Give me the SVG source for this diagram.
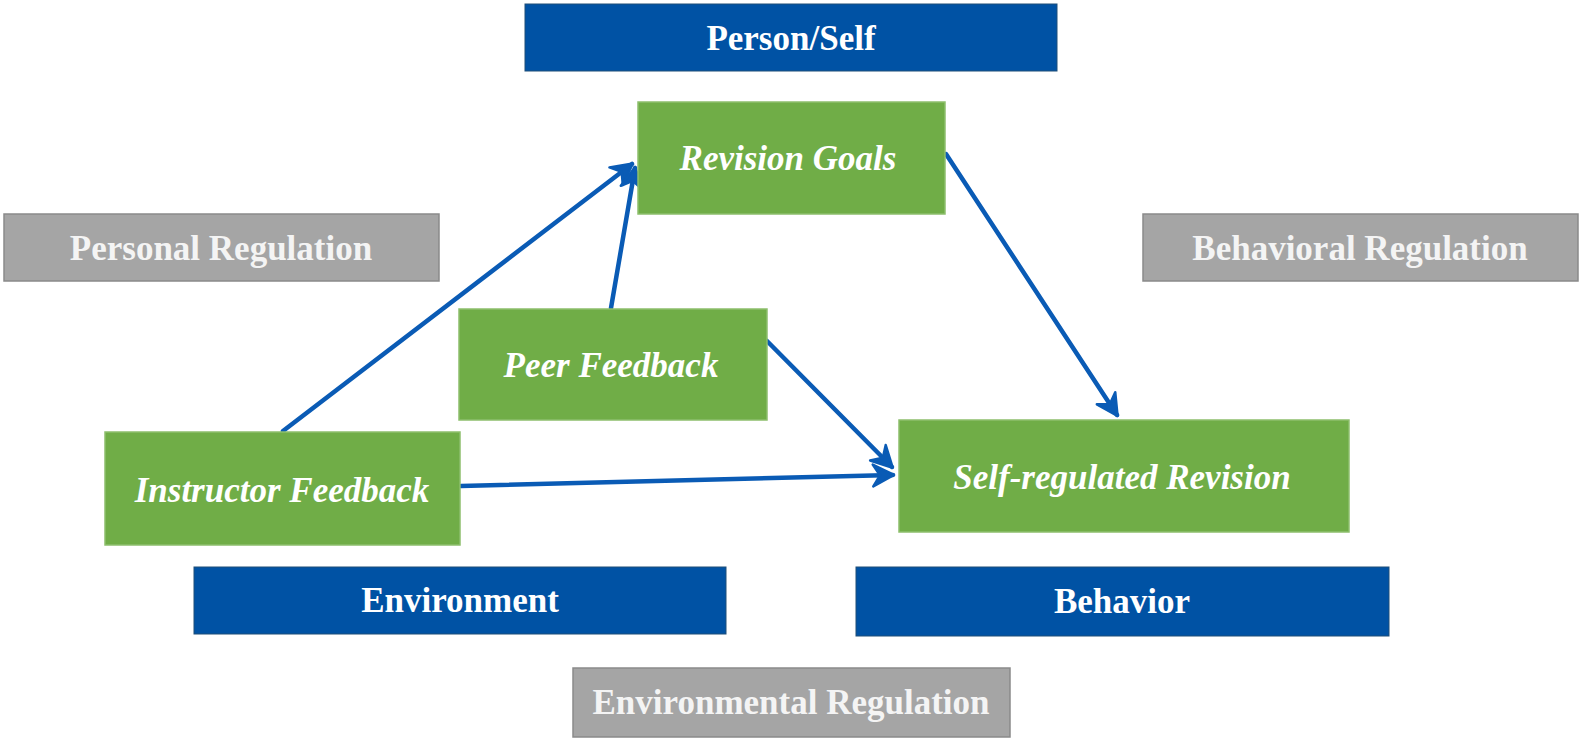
<svg xmlns="http://www.w3.org/2000/svg" width="1583" height="744" viewBox="0 0 1583 744">
<defs>
<style>
.blue{fill:#0052A4;stroke:#1F4E79;stroke-width:1}
.green{fill:#70AD47;stroke:#8DBF6C;stroke-width:1.5}
.grey{fill:#A5A5A5;stroke:#8A8A8A;stroke-width:1.5}
.t{font-family:"Liberation Serif","Times New Roman",serif;font-size:35px;font-weight:bold;fill:#FFFFFF;text-anchor:middle}
.ti{font-style:italic}
.tg{fill:#F4F4F4}
.c{fill:none;stroke:#0A5BB5;stroke-width:4.5;stroke-linecap:round}
</style>
<marker id="ah" markerUnits="userSpaceOnUse" markerWidth="28" markerHeight="28" viewBox="-22 -14 28 28" refX="0" refY="0" orient="auto">
<path d="M1,0 L-20,-11 L-13,0 L-20,11 Z" fill="#0A5BB5" stroke="#0A5BB5" stroke-width="2.5" stroke-linejoin="round"/>
</marker>
</defs>
<rect width="1583" height="744" fill="#FFFFFF"/>
<g id="connectors">
<line class="c" x1="283" y1="431" x2="632" y2="164" marker-end="url(#ah)"/>
<line class="c" x1="611" y1="308" x2="635" y2="168" marker-end="url(#ah)"/>
<line class="c" x1="946" y1="154" x2="1117" y2="415" marker-end="url(#ah)"/>
<line class="c" x1="767" y1="341" x2="892" y2="467" marker-end="url(#ah)"/>
<line class="c" x1="461" y1="486" x2="893" y2="475" marker-end="url(#ah)"/>
</g>
<g id="person-self">
<rect class="blue" x="525" y="4" width="532" height="67"/>
<text class="t" x="791" y="50">Person/Self</text>
</g>
<g id="revision-goals">
<rect class="green" x="638" y="102" width="307" height="112"/>
<text class="t ti" x="788" y="170">Revision Goals</text>
</g>
<g id="personal-regulation">
<rect class="grey" x="4" y="214" width="435" height="67"/>
<text class="t tg" x="221" y="260">Personal Regulation</text>
</g>
<g id="behavioral-regulation">
<rect class="grey" x="1143" y="214" width="435" height="67"/>
<text class="t tg" x="1360" y="260">Behavioral Regulation</text>
</g>
<g id="peer-feedback">
<rect class="green" x="459" y="309" width="308" height="111"/>
<text class="t ti" x="611" y="377">Peer Feedback</text>
</g>
<g id="instructor-feedback">
<rect class="green" x="105" y="432" width="355" height="113"/>
<text class="t ti" x="282" y="502">Instructor Feedback</text>
</g>
<g id="self-regulated-revision">
<rect class="green" x="899" y="420" width="450" height="112"/>
<text class="t ti" x="1122" y="489">Self-regulated Revision</text>
</g>
<g id="environment">
<rect class="blue" x="194" y="567" width="532" height="67"/>
<text class="t" x="460" y="612">Environment</text>
</g>
<g id="behavior">
<rect class="blue" x="856" y="567" width="533" height="69"/>
<text class="t" x="1122" y="613">Behavior</text>
</g>
<g id="environmental-regulation">
<rect class="grey" x="573" y="668" width="437" height="69"/>
<text class="t tg" x="791" y="714">Environmental Regulation</text>
</g>
</svg>
